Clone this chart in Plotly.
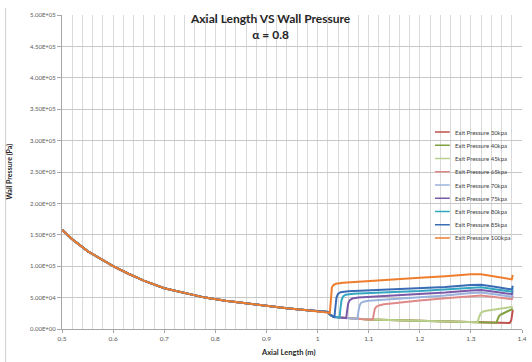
import plotly.graph_objects as go

# ---- shared upstream wall-pressure profile (before any shock) ----
x_up = [0.50, 0.52, 0.55, 0.58, 0.60, 0.63, 0.66, 0.70, 0.74, 0.78, 0.82,
        0.86, 0.90, 0.94, 0.98, 1.00, 1.02]
p_up = [1.58e5, 1.43e5, 1.24e5, 1.09e5, 1.0e5, 8.8e4, 7.7e4, 6.5e4, 5.7e4,
        5.0e4, 4.5e4, 4.1e4, 3.65e4, 3.3e4, 3.0e4, 2.85e4, 2.7e4]

# ---- series-specific downstream sections ----
names = ["Exit Pressure 30kpa", "Exit Pressure 40kpa", "Exit Pressure 45kpa",
         "Exit Pressure 65kpa", "Exit Pressure 70kpa", "Exit Pressure 75kpa",
         "Exit Pressure 80kpa", "Exit Pressure 85kpa", "Exit Pressure 100kpa"]
colors = ["#C0504D", "#7FA03C", "#B9D08C", "#DE8A88", "#9BB3DC",
          "#7A5AA6", "#34A6C2", "#3A6CB5", "#EE7D2E"]

x_30 = [1.024, 1.03, 1.04, 1.05, 1.07, 1.10, 1.14, 1.18, 1.22, 1.26, 1.30, 1.34,
        1.376, 1.379, 1.381, 1.382]
p_30 = [2.3e4, 2.0e4, 1.85e4, 1.78e4, 1.65e4, 1.52e4, 1.42e4, 1.34e4, 1.26e4,
        1.18e4, 1.10e4, 1.02e4, 0.95e4, 1.4e4, 2.4e4, 3.0e4]

x_40 = [1.024, 1.03, 1.04, 1.05, 1.07, 1.10, 1.14, 1.18, 1.22, 1.26, 1.30, 1.34,
        1.350, 1.353, 1.356, 1.360, 1.37, 1.382]
p_40 = [2.3e4, 2.0e4, 1.85e4, 1.78e4, 1.65e4, 1.52e4, 1.42e4, 1.34e4, 1.26e4,
        1.18e4, 1.10e4, 1.02e4, 1.0e4, 1.7e4, 2.15e4, 2.35e4, 2.7e4, 3.2e4]

x_45 = [1.024, 1.03, 1.04, 1.05, 1.07, 1.10, 1.14, 1.18, 1.22, 1.26, 1.30,
        1.313, 1.316, 1.319, 1.323, 1.33, 1.35, 1.37, 1.382]
p_45 = [2.3e4, 2.0e4, 1.85e4, 1.78e4, 1.65e4, 1.52e4, 1.42e4, 1.34e4, 1.26e4,
        1.18e4, 1.10e4, 1.07e4, 1.9e4, 2.5e4, 2.75e4, 2.9e4, 3.15e4, 3.35e4, 3.55e4]

x_65 = [1.024, 1.03, 1.04, 1.05, 1.07, 1.09, 1.108, 1.110, 1.112, 1.115, 1.12,
        1.13, 1.15, 1.20, 1.25, 1.30, 1.32, 1.35, 1.38, 1.382]
p_65 = [2.3e4, 2.0e4, 1.85e4, 1.78e4, 1.65e4, 1.55e4, 1.5e4, 2.5e4, 3.2e4,
        3.55e4, 3.75e4, 3.95e4, 4.15e4, 4.55e4, 4.9e4, 5.3e4, 5.35e4, 5.05e4,
        4.75e4, 5.3e4]

x_70 = [1.024, 1.03, 1.04, 1.05, 1.07, 1.078, 1.080, 1.082, 1.085, 1.09, 1.10,
        1.15, 1.20, 1.25, 1.30, 1.32, 1.35, 1.38, 1.382]
p_70 = [2.3e4, 2.0e4, 1.85e4, 1.78e4, 1.65e4, 1.6e4, 2.8e4, 3.7e4, 4.15e4,
        4.35e4, 4.5e4, 4.75e4, 5.05e4, 5.35e4, 5.75e4, 5.8e4, 5.5e4, 5.15e4, 5.7e4]

x_75 = [1.024, 1.03, 1.04, 1.05, 1.056, 1.058, 1.060, 1.063, 1.068, 1.08, 1.10,
        1.15, 1.20, 1.25, 1.30, 1.32, 1.35, 1.38, 1.382]
p_75 = [2.3e4, 2.0e4, 1.85e4, 1.78e4, 1.74e4, 3.0e4, 4.1e4, 4.6e4, 4.85e4,
        5.0e4, 5.1e4, 5.3e4, 5.5e4, 5.8e4, 6.15e4, 6.2e4, 5.9e4, 5.55e4, 6.1e4]

x_80 = [1.024, 1.03, 1.04, 1.043, 1.045, 1.047, 1.050, 1.055, 1.07, 1.10, 1.15,
        1.20, 1.25, 1.30, 1.32, 1.35, 1.38, 1.382]
p_80 = [2.3e4, 2.0e4, 1.85e4, 1.84e4, 3.4e4, 4.6e4, 5.2e4, 5.45e4, 5.6e4,
        5.75e4, 5.9e4, 6.05e4, 6.3e4, 6.6e4, 6.65e4, 6.3e4, 5.95e4, 6.5e4]

x_85 = [1.024, 1.03, 1.033, 1.035, 1.037, 1.040, 1.045, 1.06, 1.10, 1.15, 1.20,
        1.25, 1.30, 1.32, 1.35, 1.38, 1.382]
p_85 = [2.3e4, 2.0e4, 1.9e4, 3.5e4, 5.0e4, 5.6e4, 5.85e4, 6.0e4, 6.15e4, 6.3e4,
        6.45e4, 6.7e4, 7.0e4, 7.05e4, 6.7e4, 6.3e4, 6.9e4]

x_100 = [1.022, 1.024, 1.025, 1.026, 1.028, 1.031, 1.036, 1.05, 1.10, 1.15, 1.20,
         1.25, 1.30, 1.32, 1.35, 1.37, 1.380, 1.382]
p_100 = [2.6e4, 2.5e4, 3.5e4, 5.5e4, 6.6e4, 7.0e4, 7.2e4, 7.35e4, 7.65e4, 7.9e4,
         8.15e4, 8.4e4, 8.7e4, 8.7e4, 8.3e4, 8.0e4, 7.9e4, 8.6e4]

tails_x = [x_30, x_40, x_45, x_65, x_70, x_75, x_80, x_85, x_100]
tails_p = [p_30, p_40, p_45, p_65, p_70, p_75, p_80, p_85, p_100]

# axis ticks
x_ticks = [0.5, 0.6, 0.7, 0.8, 0.9, 1.0, 1.1, 1.2, 1.3, 1.4]
y_ticks = [i * 5e4 for i in range(11)]
y_tick_text = [f"{v:.2E}" for v in y_ticks]

FONT = "Lato, 'Open Sans', sans-serif"
GRID = "#D9D9D9"

fig = go.Figure()
for name, col, tx, tp in zip(names, colors, tails_x, tails_p):
    fig.add_trace(go.Scatter(
        x=x_up + tx, y=p_up + tp, mode="lines", name=name,
        line=dict(color=col, width=2), showlegend=False,
    ))

# plot-area geometry in pixels (used for overlay placement)
L, R, T, B = 62, 527, 15, 329
W_PX, H_PX = R - L, B - T


def px_x(px):
    return (px - L) / W_PX


def px_y(py):
    return (B - py) / H_PX


shapes = []
annotations = []

# legend drawn as line samples and text labels
leg_top, leg_step = 132, 13.25
for i, (name, col) in enumerate(zip(names, colors)):
    yy = px_y(leg_top + leg_step * i)
    shapes.append(dict(type="line", xref="paper", yref="paper",
                       x0=px_x(439), x1=px_x(454), y0=yy, y1=yy,
                       line=dict(color=col, width=1.5)))
    annotations.append(dict(text=name, xref="paper", yref="paper",
                            x=px_x(457), y=yy, xanchor="left", yanchor="middle",
                            showarrow=False,
                            font=dict(family=FONT, size=6, color="#404040")))

# chart frame edge on the left
shapes.append(dict(type="line", xref="paper", yref="paper",
                   x0=px_x(5), x1=px_x(5), y0=px_y(8), y1=px_y(362),
                   line=dict(color="#D0D0D0", width=1)))

# title
annotations.append(dict(
    text="<b>Axial Length VS Wall Pressure</b><br><b>α = 0.8</b>",
    xref="paper", yref="paper", x=px_x(273), y=px_y(27),
    xanchor="center", yanchor="middle", showarrow=False,
    font=dict(family=FONT, size=12, color="#262626")))

# axis titles
annotations.append(dict(text="<b>Axial Length (m)</b>", xref="paper", yref="paper",
                        x=px_x(291), y=px_y(352), xanchor="center",
                        yanchor="middle", showarrow=False,
                        font=dict(family=FONT, size=7.5, color="#262626")))
annotations.append(dict(text="<b>Wall Pressure (Pa)</b>", xref="paper", yref="paper",
                        x=px_x(8), y=px_y(172), xanchor="center",
                        yanchor="middle", showarrow=False, textangle=-90,
                        font=dict(family=FONT, size=7, color="#262626")))

fig.update_layout(
    width=532, height=362,
    margin=dict(l=L, r=532 - R, t=T, b=362 - B, pad=0),
    paper_bgcolor="white", plot_bgcolor="white",
    shapes=shapes, annotations=annotations,
    xaxis=dict(
        range=[0.5, 1.4], tickvals=x_ticks, showgrid=True, gridcolor=GRID,
        gridwidth=1, zeroline=False, showline=True, linecolor="#A6A6A6",
        ticks="outside", ticklen=3, tickcolor="#A6A6A6",
        minor=dict(dtick=0.02, showgrid=True, gridcolor=GRID, gridwidth=1),
        tickfont=dict(family=FONT, size=6.5, color="#595959"),
    ),
    yaxis=dict(
        range=[0, 5e5], tickvals=y_ticks, ticktext=y_tick_text,
        showgrid=True, gridcolor="#C8C8C8", gridwidth=1, zeroline=False,
        showline=True, linecolor="#A6A6A6", ticks="outside", ticklen=4,
        tickcolor="#A6A6A6",
        tickfont=dict(family=FONT, size=6, color="#595959"),
    ),
)

fig.write_html("out.html")
